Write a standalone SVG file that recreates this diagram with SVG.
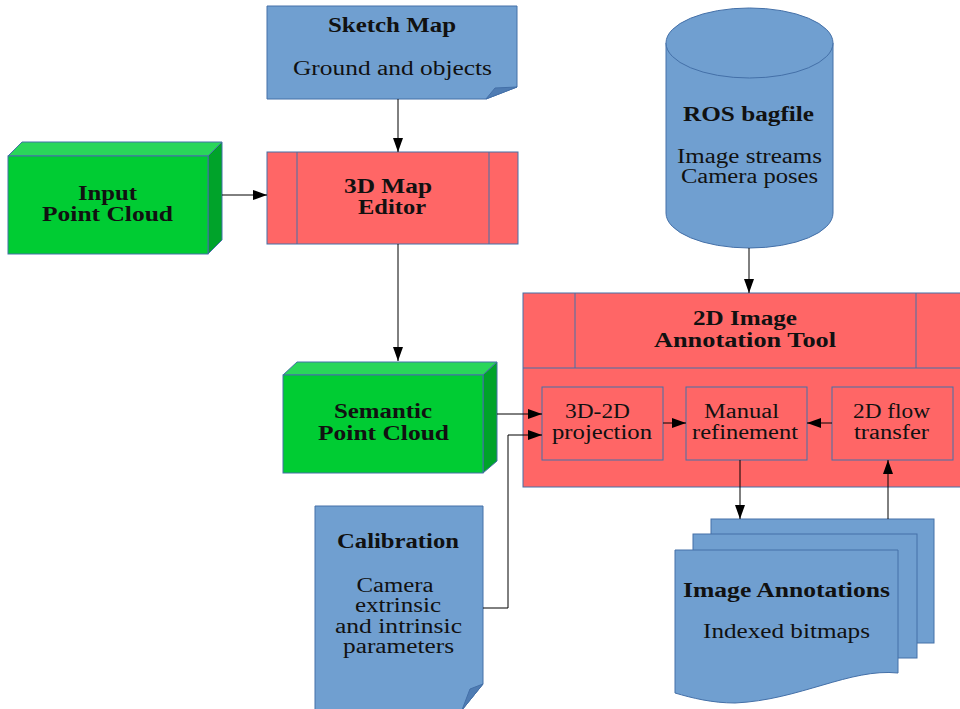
<svg xmlns="http://www.w3.org/2000/svg" width="960" height="709" viewBox="0 0 960 709">
<defs>
<style>
.doc{fill:#709fd0;stroke:#4470a8;stroke-width:1}
.fold{fill:#4f7cb3;stroke:#4470a8;stroke-width:1}
.red{fill:#ff6666;stroke:#4470a8;stroke-width:1}
.gf{fill:#00cc33;stroke:#4470a8;stroke-width:1}
.gt{fill:#2ad65a;stroke:#4470a8;stroke-width:1}
.gs{fill:#00a32a;stroke:#4470a8;stroke-width:1}
.ln{fill:none;stroke:#000;stroke-width:1}
text{font-family:"Liberation Serif","Times New Roman",serif;font-size:20px;fill:#111;text-anchor:middle}
.b{font-weight:bold}
</style>
<marker id="ah" markerWidth="14" markerHeight="10" refX="14" refY="5" orient="auto" markerUnits="userSpaceOnUse">
<path d="M0,0 L14,5 L0,10 z" fill="#000"/>
</marker>
</defs>
<rect width="960" height="709" fill="#fff"/>

<g id="sketch-map">
<path class="doc" d="M267,6 H517 V87 L486,99 H267 Z"/>
<path class="fold" d="M486,99 L495,88 L517,87 Z"/>
<text class="b" x="392" y="32" textLength="128" lengthAdjust="spacingAndGlyphs">Sketch Map</text>
<text x="392.5" y="75" textLength="199" lengthAdjust="spacingAndGlyphs">Ground and objects</text>
</g>

<g id="input-point-cloud">
<polygon class="gt" points="8,156 22,142 222,142 208,156"/>
<polygon class="gs" points="208,156 222,142 222,240 208,254"/>
<rect class="gf" x="8" y="156" width="200" height="98"/>
<text class="b" x="107.5" y="200" textLength="59" lengthAdjust="spacingAndGlyphs">Input</text>
<text class="b" x="107.5" y="221" textLength="131" lengthAdjust="spacingAndGlyphs">Point Cloud</text>
</g>

<g id="map-editor">
<rect class="red" x="267" y="152" width="251" height="92"/>
<line class="red" x1="297" y1="152" x2="297" y2="244"/>
<line class="red" x1="489" y1="152" x2="489" y2="244"/>
<text class="b" x="388" y="193" textLength="88" lengthAdjust="spacingAndGlyphs">3D Map</text>
<text class="b" x="392" y="214" textLength="68" lengthAdjust="spacingAndGlyphs">Editor</text>
</g>

<g id="ros-bagfile">
<path class="doc" d="M666,43 A83.5,35 0 0 1 833,43 V213 A83.5,35 0 0 1 666,213 Z"/>
<path class="doc" d="M666,43 A83.5,35 0 0 0 833,43" fill="none"/>
<text class="b" x="748.5" y="121" textLength="131" lengthAdjust="spacingAndGlyphs">ROS bagfile</text>
<text x="749.5" y="163" textLength="145" lengthAdjust="spacingAndGlyphs">Image streams</text>
<text x="749.5" y="183" textLength="137" lengthAdjust="spacingAndGlyphs">Camera poses</text>
</g>

<g id="annotation-tool">
<rect class="red" x="523" y="293" width="440" height="194"/>
<line class="red" x1="523" y1="368" x2="963" y2="368"/>
<line class="red" x1="575" y1="293" x2="575" y2="368"/>
<line class="red" x1="916" y1="293" x2="916" y2="368"/>
<text class="b" x="745" y="325" textLength="104" lengthAdjust="spacingAndGlyphs">2D Image</text>
<text class="b" x="745" y="347" textLength="182" lengthAdjust="spacingAndGlyphs">Annotation Tool</text>
</g>

<g id="projection">
<rect class="red" x="542" y="387" width="121" height="73"/>
<text x="597.5" y="418" textLength="65" lengthAdjust="spacingAndGlyphs">3D-2D</text>
<text x="602" y="439" textLength="100" lengthAdjust="spacingAndGlyphs">projection</text>
</g>

<g id="manual-refinement">
<rect class="red" x="686" y="387" width="121" height="73"/>
<text x="741.5" y="418" textLength="75" lengthAdjust="spacingAndGlyphs">Manual</text>
<text x="745" y="439" textLength="106" lengthAdjust="spacingAndGlyphs">refinement</text>
</g>

<g id="flow-transfer">
<rect class="red" x="832" y="387" width="121" height="73"/>
<text x="891.5" y="418" textLength="77" lengthAdjust="spacingAndGlyphs">2D flow</text>
<text x="891.5" y="439" textLength="75" lengthAdjust="spacingAndGlyphs">transfer</text>
</g>

<g id="semantic-point-cloud">
<polygon class="gt" points="283,375 297,362 497,362 483,375"/>
<polygon class="gs" points="483,375 497,362 497,461 483,473"/>
<rect class="gf" x="283" y="375" width="200" height="98"/>
<text class="b" x="383" y="418" textLength="98" lengthAdjust="spacingAndGlyphs">Semantic</text>
<text class="b" x="383.5" y="440" textLength="131" lengthAdjust="spacingAndGlyphs">Point Cloud</text>
</g>

<g id="calibration">
<path class="doc" d="M315,506 H483 V684 L462,710 H315 Z"/>
<path class="fold" d="M462,710 L470,689 L483,684 Z"/>
<text class="b" x="398" y="548" textLength="122" lengthAdjust="spacingAndGlyphs">Calibration</text>
<text x="395" y="592" textLength="77" lengthAdjust="spacingAndGlyphs">Camera</text>
<text x="398" y="612" textLength="86" lengthAdjust="spacingAndGlyphs">extrinsic</text>
<text x="398.5" y="633" textLength="127" lengthAdjust="spacingAndGlyphs">and intrinsic</text>
<text x="398.5" y="653" textLength="111" lengthAdjust="spacingAndGlyphs">parameters</text>
</g>

<g id="image-annotations">
<rect class="doc" x="711" y="519" width="223" height="124"/>
<rect class="doc" x="693" y="534" width="224" height="124"/>
<path class="doc" d="M675,550 H898 V673 C850,668 800,700 735,703 C712,703 692,698 675,693 Z"/>
<text class="b" x="786.5" y="597" textLength="207" lengthAdjust="spacingAndGlyphs">Image Annotations</text>
<text x="786.5" y="638" textLength="167" lengthAdjust="spacingAndGlyphs">Indexed bitmaps</text>
</g>

<g id="connectors">
<line class="ln" x1="398" y1="99" x2="398" y2="152" marker-end="url(#ah)"/>
<line class="ln" x1="222" y1="195" x2="267" y2="195" marker-end="url(#ah)"/>
<line class="ln" x1="398" y1="244" x2="398" y2="361" marker-end="url(#ah)"/>
<line class="ln" x1="749" y1="248" x2="749" y2="293" marker-end="url(#ah)"/>
<line class="ln" x1="497" y1="414" x2="542" y2="414" marker-end="url(#ah)"/>
<polyline class="ln" points="483,608 508,608 508,435 542,435" marker-end="url(#ah)"/>
<line class="ln" x1="663" y1="423" x2="686" y2="423" marker-end="url(#ah)"/>
<line class="ln" x1="832" y1="423" x2="807" y2="423" marker-end="url(#ah)"/>
<line class="ln" x1="740" y1="460" x2="740" y2="519" marker-end="url(#ah)"/>
<line class="ln" x1="888" y1="519" x2="888" y2="460" marker-end="url(#ah)"/>
</g>
</svg>
